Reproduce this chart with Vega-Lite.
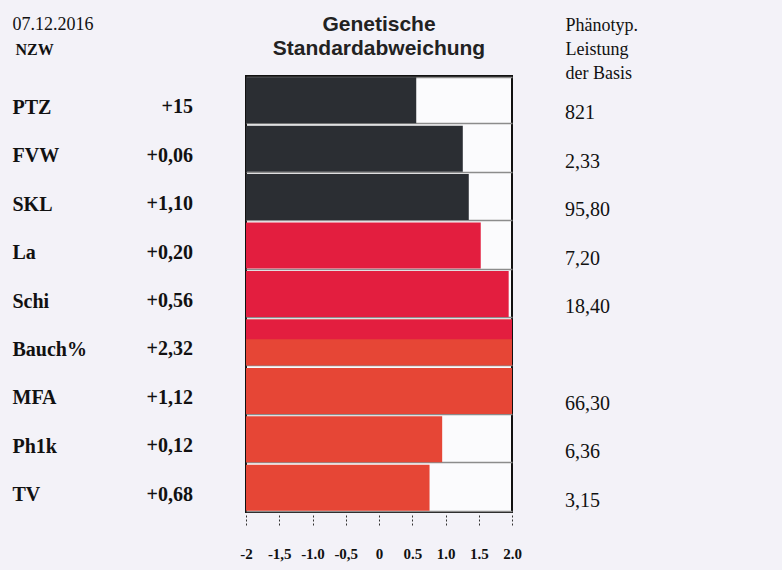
{
  "$schema": "https://vega.github.io/schema/vega-lite/v6.json",
  "width": 266,
  "height": 436,
  "autosize": "none",
  "padding": {"left": 246, "top": 76, "right": 270, "bottom": 58},
  "background": "#f3f2f8",
  "view": {"fill": "#fbfbfd", "stroke": "#111111", "strokeWidth": 2},
  "config": {"axisX": {"tickCount": 20, "labelOverlap": false, "labelBound": false}},
  "title": {
    "text": ["Genetische", "Standardabweichung"],
    "font": "Liberation Sans",
    "fontSize": 21,
    "fontWeight": "bold",
    "color": "#222222",
    "lineHeight": 24,
    "anchor": "middle",
    "frame": "group",
    "baseline": "bottom",
    "offset": 0,
    "dy": 65
  },
  "datasets": {
    "main": [
      {"trait": "PTZ", "sd": 0.56, "sdv": "+15", "pheno": "821", "grp": "dark"},
      {"trait": "FVW", "sd": 1.26, "sdv": "+0,06", "pheno": "2,33", "grp": "dark"},
      {"trait": "SKL", "sd": 1.35, "sdv": "+1,10", "pheno": "95,80", "grp": "dark"},
      {"trait": "La", "sd": 1.53, "sdv": "+0,20", "pheno": "7,20", "grp": "red"},
      {"trait": "Schi", "sd": 1.95, "sdv": "+0,56", "pheno": "18,40", "grp": "red"},
      {"trait": "Bauch%", "sd": 2.0, "sdv": "+2,32", "pheno": "", "grp": "orange"},
      {"trait": "MFA", "sd": 2.0, "sdv": "+1,12", "pheno": "66,30", "grp": "orange"},
      {"trait": "Ph1k", "sd": 0.95, "sdv": "+0,12", "pheno": "6,36", "grp": "orange"},
      {"trait": "TV", "sd": 0.76, "sdv": "+0,68", "pheno": "3,15", "grp": "orange"}
    ],
    "overlay": [
      {"trait": "Bauch%", "sd": 2.0, "part": "top"}
    ]
  },
  "data": {"name": "main"},
  "resolve": {"axis": {"y": "independent"}},
  "layer": [
    {
      "mark": {"type": "bar"},
      "encoding": {
        "y": {
          "field": "trait", "type": "nominal", "sort": null,
          "scale": {"domain": ["PTZ", "FVW", "SKL", "La", "Schi", "Bauch%", "MFA", "Ph1k", "TV"], "paddingInner": 0.05, "paddingOuter": 0.025},
          "axis": {
            "orient": "left", "domain": false, "ticks": false,
            "labelAlign": "left", "labelPadding": 234, "labelBaseline": "middle", "labelOffset": 7,
            "labelFont": "Liberation Serif", "labelFontWeight": "bold", "labelFontSize": 20, "labelColor": "#111111",
            "grid": true, "gridColor": "#8c8c8c", "gridWidth": 1.5, "tickBand": "extent",
            "title": "07.12.2016", "titleAngle": 0, "titleX": -234, "titleY": -47,
            "titleAlign": "left", "titleBaseline": "alphabetic",
            "titleFont": "Liberation Serif", "titleFontWeight": "normal", "titleFontSize": 18, "titleColor": "#111111"
          }
        },
        "x": {
          "field": "sd", "type": "quantitative",
          "scale": {"domain": [-2, 2], "zero": false, "nice": false},
          "axis": {
            "values": [-2, -1.5, -1, -0.5, 0, 0.5, 1, 1.5, 2],
            "tickCount": 20,
            "labelExpr": "datum.value == -2 ? '-2' : datum.value == -1.5 ? '-1,5' : datum.value == -1 ? '-1.0' : datum.value == -0.5 ? '-0,5' : datum.value == 0 ? '0' : format(datum.value, '.1f')",
            "labelOverlap": false, "labelBound": false,
            "domain": false, "grid": false, "ticks": true, "tickSize": 12, "tickDash": [2, 2],
            "tickColor": "#333333", "tickWidth": 1, "offset": 3, "labelPadding": 19, "labelFlush": false,
            "labelFont": "Liberation Serif", "labelFontWeight": "bold", "labelFontSize": 15, "labelColor": "#111111",
            "labelBaseline": "top",
            "title": "NZW", "titleX": -231, "titleY": -461, "titleAngle": 0,
            "titleAlign": "left", "titleBaseline": "alphabetic",
            "titleFont": "Liberation Serif", "titleFontWeight": "bold", "titleFontSize": 16, "titleColor": "#111111"
          }
        },
        "x2": {"datum": -2},
        "color": {
          "field": "grp", "type": "nominal",
          "scale": {"domain": ["dark", "red", "orange"], "range": ["#2b2e33", "#e31e3f", "#e64636"]},
          "legend": null
        }
      }
    },
    {
      "data": {"name": "overlay"},
      "mark": {"type": "bar", "color": "#e31e3f"},
      "encoding": {
        "y": {"field": "trait", "type": "nominal", "sort": null, "axis": null},
        "yOffset": {"field": "part", "type": "nominal", "scale": {"domain": ["top"], "paddingInner": 0, "paddingOuter": 0.663, "align": 0}},
        "x": {"field": "sd", "type": "quantitative", "title": "NZW", "axis": {"values": [-2, -1.5, -1, -0.5, 0, 0.5, 1, 1.5, 2], "tickCount": 20, "labelOverlap": false}},
        "x2": {"datum": -2}
      }
    },
    {
      "mark": {"type": "text", "align": "right", "baseline": "middle", "dx": -53, "dy": 7,
               "font": "Liberation Serif", "fontWeight": "bold", "fontSize": 20, "color": "#111111"},
      "encoding": {
        "y": {"field": "trait", "type": "nominal", "sort": null, "axis": null},
        "x": {"datum": -2, "axis": {"values": [-2, -1.5, -1, -0.5, 0, 0.5, 1, 1.5, 2], "tickCount": 20, "labelOverlap": false}},
        "text": {"field": "sdv"}
      }
    },
    {
      "mark": {"type": "text", "align": "left", "baseline": "middle", "dx": 53, "dy": 13,
               "font": "Liberation Serif", "fontSize": 20, "color": "#111111"},
      "encoding": {
        "y": {
          "field": "trait", "type": "nominal", "sort": null,
          "axis": {
            "orient": "right", "labels": false, "ticks": false, "domain": false, "grid": false,
            "title": ["Phänotyp.", "Leistung", "der Basis"], "titleAngle": 0, "titleX": 53, "titleY": -46,
            "titleAlign": "left", "titleBaseline": "alphabetic", "titleLineHeight": 24,
            "titleFont": "Liberation Serif", "titleFontWeight": "normal", "titleFontSize": 18, "titleColor": "#111111"
          }
        },
        "x": {"datum": 2, "axis": {"values": [-2, -1.5, -1, -0.5, 0, 0.5, 1, 1.5, 2], "tickCount": 20, "labelOverlap": false}},
        "text": {"field": "pheno"}
      }
    }
  ]
}
